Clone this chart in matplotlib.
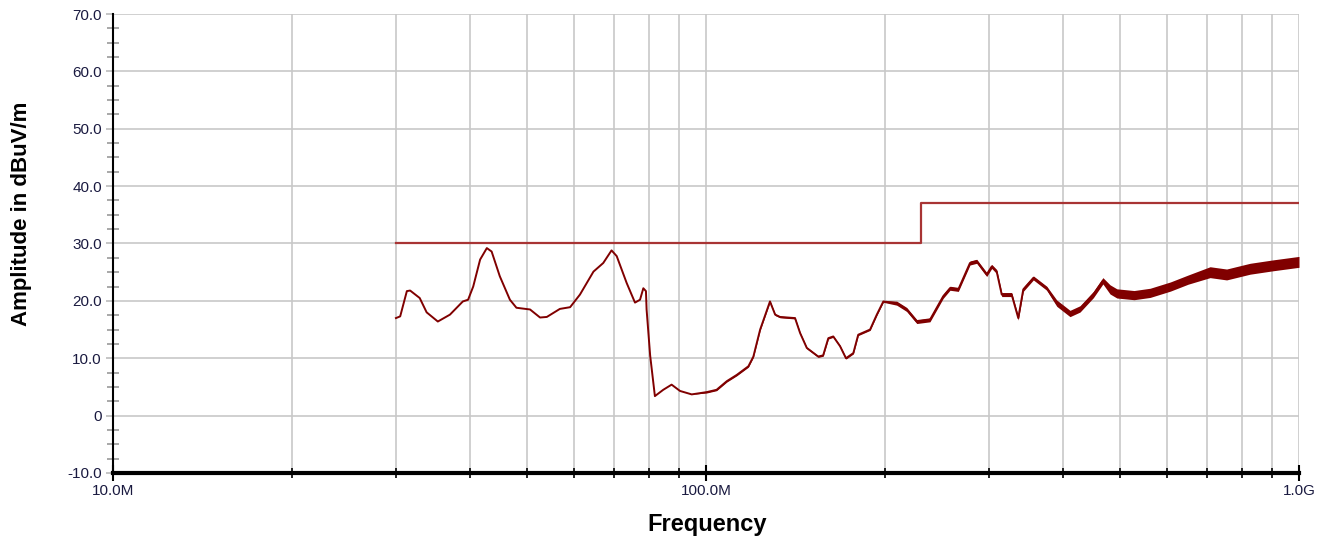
import matplotlib
matplotlib.use("Agg")
import matplotlib.pyplot as plt
from matplotlib.ticker import FixedLocator, FixedFormatter, NullFormatter

plt.rcParams['font.family'] = ['Liberation Sans', 'DejaVu Sans']

# ---- data (frequency in MHz, amplitude in dBuV/m) ----
trace_freq = [30.0, 30.5, 31.3, 31.7, 32.9, 33.8, 35.3, 37.0, 38.9, 39.7, 40.5, 41.6,
              42.7, 43.5, 44.9, 46.7, 47.9, 50.5, 52.5, 53.9, 56.7, 59.0, 61.3, 64.6,
              67.1, 69.3, 70.7, 73.5, 75.9, 77.4, 78.4, 79.2, 79.4, 80.5, 82.0, 84.7,
              87.5, 90.4, 94.6, 100.3, 104.2, 108.4, 112.7, 117.9, 120.2, 123.4, 128.2,
              130.8, 133.3, 141.3, 144.1, 147.9, 154.6, 157.6, 160.8, 163.9, 168.3,
              172.2, 177.2, 180.6, 189.1, 194.1, 199.1, 209.7, 218.0, 226.7, 238.6,
              251.2, 257.9, 266.4, 278.7, 286.1, 297.4, 303.3, 309.2, 315.3, 327.7,
              336.2, 342.8, 356.5, 375.5, 390.4, 411.0, 427.3, 450.0, 467.0, 480.1,
              493.0, 527.0, 561.0, 607.0, 650.0, 708.0, 755.0, 827.0, 905.0, 1000.0]
trace_db = [17.0, 17.3, 21.7, 21.8, 20.5, 18.0, 16.4, 17.6, 19.9, 20.2, 22.5, 27.2,
            29.2, 28.6, 24.3, 20.2, 18.8, 18.5, 17.1, 17.2, 18.6, 18.9, 21.1, 25.1,
            26.6, 28.8, 27.8, 23.1, 19.7, 20.2, 22.2, 21.7, 18.5, 10.5, 3.4, 4.5,
            5.4, 4.3, 3.7, 4.1, 4.5, 6.0, 7.1, 8.6, 10.3, 15.0, 19.9,
            17.6, 17.2, 17.0, 14.4, 11.8, 10.3, 10.5, 13.5, 13.8, 12.1,
            10.0, 10.9, 14.1, 15.0, 17.6, 19.9, 19.6, 18.5, 16.4, 16.7,
            20.8, 22.2, 22.0, 26.6, 26.9, 24.6, 26.0, 25.1, 21.1, 21.1,
            17.0, 22.0, 24.0, 22.2, 19.6, 17.8, 18.6, 21.1, 23.5, 22.0,
            21.3, 21.0, 21.4, 22.5, 23.7, 25.0, 24.6, 25.6, 26.2, 26.8]
# half-width of the noise band around the trace (dB), one value per point
trace_spread = [0.0] * 39 + [0.15] * 24 + [0.35] * 18 + [0.55] * 5 + [0.8] * 6 + [0.95] * 5

limit_freq = [30.0, 230.0, 230.0, 1000.0]
limit_db = [30.0, 30.0, 37.0, 37.0]

y_ticks = [-10, 0, 10, 20, 30, 40, 50, 60, 70]
y_labels = ["-10.0", "0", "10.0", "20.0", "30.0", "40.0", "50.0", "60.0", "70.0"]
x_ticks = [10, 100, 1000]
x_labels = ["10.0M", "100.0M", "1.0G"]

# ---- figure ----
fig = plt.figure(figsize=(13.33, 5.44), dpi=100)
ax = fig.add_axes([113/1333, 71/544, (1299-113)/1333, (473-14)/544])

trace_color = '#800000'
limit_color = '#a83434'

ax.plot(limit_freq, limit_db, color=limit_color, lw=1.6, zorder=3)
lo = [d - s for d, s in zip(trace_db, trace_spread)]
hi = [d + s for d, s in zip(trace_db, trace_spread)]
ax.fill_between(trace_freq, lo, hi, color=trace_color, lw=0, zorder=3)
ax.plot(trace_freq, trace_db, color=trace_color, lw=1.4, zorder=4)

ax.set_xscale('log')
ax.set_xlim(10, 1000)
ax.set_ylim(-10, 70)

minor_x = [m * d for d in (10, 100) for m in range(2, 10)]
ax.xaxis.set_major_locator(FixedLocator(x_ticks))
ax.xaxis.set_major_formatter(FixedFormatter(x_labels))
ax.xaxis.set_minor_locator(FixedLocator(minor_x))
ax.xaxis.set_minor_formatter(NullFormatter())
ax.yaxis.set_major_locator(FixedLocator(y_ticks))
ax.yaxis.set_major_formatter(FixedFormatter(y_labels))
ax.yaxis.set_minor_locator(FixedLocator([v + 2.5 * k for v in range(-10, 70, 10) for k in (1, 2, 3)]))

ax.grid(True, which='major', axis='both', color='#c8c8c8', lw=1.2, zorder=0)
ax.grid(True, which='minor', axis='x', color='#c8c8c8', lw=1.2, zorder=0)
ax.set_axisbelow(True)

for s in ('top', 'right'):
    ax.spines[s].set_visible(False)
ax.spines['left'].set_linewidth(1.5)
ax.spines['bottom'].set_linewidth(3)

tick_col = '#1a1a40'
ax.tick_params(axis='x', which='major', direction='inout', length=12, width=1.5,
               labelsize=11, labelcolor=tick_col, pad=2)
ax.tick_params(axis='x', which='minor', direction='inout', length=7, width=1.2)
ax.tick_params(axis='y', which='major', direction='out', length=5, width=1.2,
               color='#bbbbbb', labelsize=11, labelcolor=tick_col, pad=3)
ax.tick_params(axis='y', which='minor', direction='inout', length=8, width=1.2, color='#999999')

fig.text(707/1333, 1 - 525/544, "Frequency", ha='center', va='center',
         fontsize=17, fontweight='bold')
fig.text(22/1333, 1 - 214/544, "Amplitude in dBuV/m", ha='center', va='center',
         rotation=90, fontsize=16, fontweight='bold')

fig.savefig("out.png", dpi=100)
